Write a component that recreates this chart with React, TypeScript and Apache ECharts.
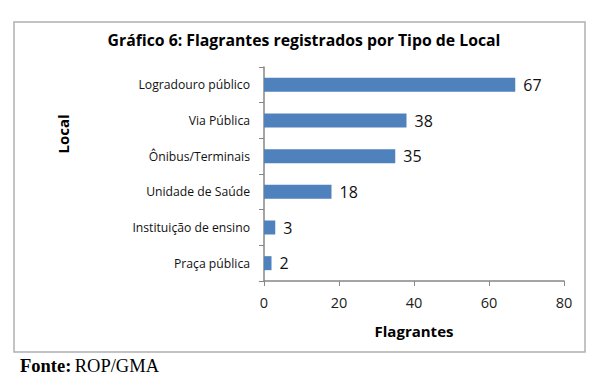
import React, { useEffect, useRef } from "react";
import * as echarts from "echarts";

const categories = [
  "Praça pública",
  "Instituição de ensino",
  "Unidade de Saúde",
  "Ônibus/Terminais",
  "Via Pública",
  "Logradouro público",
];
const values = [2, 3, 18, 35, 38, 67];
const xTicks = [0, 20, 40, 60, 80];

const FONT = "Open Sans";

export default function App() {
  const ref = useRef<HTMLDivElement>(null);
  useEffect(() => {
    if (!ref.current) return;
    const chart = echarts.init(ref.current, undefined, { renderer: "svg" });
    chart.setOption({
      animation: false,
      backgroundColor: "#ffffff",
      title: {
        text: "Gráfico 6: Flagrantes registrados por Tipo de Local",
        left: 299,
        top: 27,
        textAlign: "center",
        textStyle: { fontFamily: FONT, fontSize: 15.8, fontWeight: "bold", color: "#000" },
      },
      grid: { left: 264, right: 38, top: 67, bottom: 109, containLabel: false },
      xAxis: {
        type: "value",
        min: xTicks[0],
        max: xTicks[xTicks.length - 1],
        interval: 20,
        name: "Flagrantes",
        nameLocation: "middle",
        nameGap: 50,
        nameTextStyle: {
          fontFamily: FONT,
          fontSize: 15,
          fontWeight: "bold",
          color: "#000",
          verticalAlign: "middle",
        },
        axisLine: { show: true, lineStyle: { color: "#868686", width: 1.5 } },
        axisTick: { show: true, length: 5, lineStyle: { color: "#868686" } },
        splitLine: { show: false },
        axisLabel: { fontFamily: FONT, fontSize: 14.5, color: "#222", margin: 14 },
      },
      yAxis: {
        type: "category",
        data: categories,
        axisLine: { show: true, lineStyle: { color: "#868686", width: 1.5 } },
        axisTick: { show: true, length: 5, lineStyle: { color: "#868686" } },
        axisLabel: { fontFamily: FONT, fontSize: 12.2, color: "#111", margin: 14 },
      },
      series: [
        {
          type: "bar",
          data: values,
          barWidth: 14,
          itemStyle: { color: "#4F81BD" },
          label: {
            show: true,
            position: "right",
            distance: 8,
            fontFamily: FONT,
            fontSize: 16,
            color: "#111",
          },
        },
      ],
      graphic: [
        {
          type: "rect",
          shape: { x: 14, y: 22, width: 571, height: 330 },
          style: { fill: "none", stroke: "#b0b0b0", lineWidth: 1.5 },
          silent: true,
        },
        {
          type: "text",
          x: 63,
          y: 134,
          rotation: Math.PI / 2,
          style: {
            text: "Local",
            fontFamily: FONT,
            fontSize: 15,
            fontWeight: "bold",
            fill: "#000",
            align: "center",
            verticalAlign: "middle",
          },
        },
        {
          type: "text",
          x: 20,
          y: 366,
          style: {
            text: "{b|Fonte:} {r|ROP/GMA}",
            rich: {
              b: { fontFamily: "Liberation Serif", fontSize: 18.5, fontWeight: "bold", fill: "#000" },
              r: { fontFamily: "Liberation Serif", fontSize: 18.5, fill: "#000" },
            },
            verticalAlign: "middle",
          },
        },
      ],
    });
    return () => chart.dispose();
  }, []);
  return (
    <div
      ref={ref}
      style={{ position: "fixed", left: 0, top: 0, width: 602, height: 390 }}
    />
  );
}
